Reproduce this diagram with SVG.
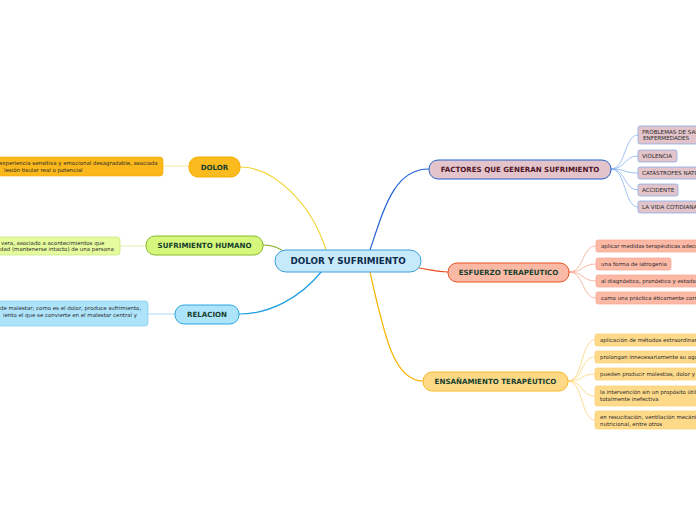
<svg xmlns="http://www.w3.org/2000/svg" width="696" height="520" viewBox="0 0 696 520">
<style>
.t{font-family:"DejaVu Sans",Verdana,sans-serif;}
.main{font-size:8.8px;font-weight:bold;fill:#0d2b4e;text-anchor:middle;}
.sub{font-size:7.1px;font-weight:bold;fill:#17402e;text-anchor:middle;}
.leaf{font-size:5.45px;fill:#2a2a2a;}
.up{font-size:5.6px;fill:#2a2a2a;}
.c{fill:none;stroke-width:1.2;}
.lc{fill:none;stroke-width:0.8;}
</style>
<rect width="696" height="520" fill="#ffffff"/>
<g id="connectors">
<path class="c" stroke="#f0d43a" d="M326,250 C312,205 275,167 240,167"/>
<path class="c" stroke="#86ad1c" d="M263,245 C274,245 280,248 286,253"/>
<path class="c" stroke="#1d9fe2" d="M322,271 C300,298 270,314 239,314"/>
<path class="c" stroke="#1e62d0" d="M370,250 C385,205 395,169 429,169"/>
<path class="c" stroke="#e8501e" d="M419,268 C432,270 436,272 448,272"/>
<path class="c" stroke="#f7b500" d="M370,272 C385,340 395,381 423,381"/>
<path class="lc" stroke="#f5e08a" d="M163,166 L189,166"/>
<path class="lc" stroke="#d9f09a" d="M120,246 L146,246"/>
<path class="lc" stroke="#8fd4f2" d="M148,314 L175,314"/>
<g stroke="#86b2ee">
<path class="lc" d="M611,169 C626,169 624,135 638,135"/>
<path class="lc" d="M611,169 C626,169 624,156 638,156"/>
<path class="lc" d="M611,169 C626,169 624,173 638,173"/>
<path class="lc" d="M611,169 C626,169 624,190 638,190"/>
<path class="lc" d="M611,169 C626,169 624,207 638,207"/>
</g>
<g stroke="#f6a791">
<path class="lc" d="M569,272 C584,272 582,246 596,246"/>
<path class="lc" d="M569,272 C584,272 582,264 596,264"/>
<path class="lc" d="M569,272 C584,272 582,281 596,281"/>
<path class="lc" d="M569,272 C584,272 582,298 596,298"/>
</g>
<g stroke="#fcd479">
<path class="lc" d="M568,381 C583,381 581,340 595,340"/>
<path class="lc" d="M568,381 C583,381 581,357 595,357"/>
<path class="lc" d="M568,381 C583,381 581,374 595,374"/>
<path class="lc" d="M568,381 C583,381 581,396 595,396"/>
<path class="lc" d="M568,381 C583,381 581,420 595,420"/>
</g>
</g>
<g id="central">
<rect x="275" y="250" width="146" height="22" rx="11" fill="#c7eafb" stroke="#3b9fdc" stroke-width="1"/>
<text class="t main" x="348" y="264.2">DOLOR Y SUFRIMIENTO</text>
</g>
<g id="dolor">
<rect x="189" y="157" width="51" height="20" rx="9" fill="#fbbb1f" stroke="#f6ad00" stroke-width="1"/>
<text class="t sub" x="214.5" y="169.6">DOLOR</text>
</g>
<g id="dolor-leaf">
<rect x="-10" y="157" width="173" height="19" rx="3" fill="#fbb81c" stroke="#f6ad00" stroke-width="0.6"/>
<text class="t leaf" x="-1" y="165.2">experiencia sensitiva y emocional desagradable, asociada</text>
<text class="t leaf" x="4" y="171.7">lesión tisular real o potencial</text>
</g>
<g id="sufrimiento">
<rect x="146" y="236" width="117" height="19" rx="9" fill="#d5f77b" stroke="#86ba2a" stroke-width="1"/>
<text class="t sub" x="204.5" y="248">SUFRIMIENTO HUMANO</text>
</g>
<g id="sufrimiento-leaf">
<rect x="-10" y="237" width="130" height="18" rx="3" fill="#e6fb9e" stroke="#bde468" stroke-width="0.6"/>
<text class="t leaf" x="1" y="244.5">vera, asociado a acontecimientos que</text>
<text class="t leaf" x="0" y="251">dad (mantenerse intacto) de una persona</text>
</g>
<g id="relacion">
<rect x="175" y="305" width="64" height="19" rx="9" fill="#aee4fa" stroke="#2aa6e0" stroke-width="1"/>
<text class="t sub" x="207" y="317">RELACION</text>
</g>
<g id="relacion-leaf">
<rect x="-10" y="301" width="158" height="25" rx="3" fill="#aee4fa" stroke="#6cc8ef" stroke-width="0.6"/>
<text class="t leaf" x="0" y="310">de malestar; como es el dolor, produce sufrimiento,</text>
<text class="t leaf" x="3" y="316.5">iento el que se convierte en el malestar central y</text>
</g>
<g id="factores">
<rect x="429" y="160" width="182" height="19" rx="9" fill="#e3c4ca" stroke="#1e62d0" stroke-width="1"/>
<text class="t sub" x="520" y="172" style="fill:#4e1426">FACTORES QUE GENERAN SUFRIMIENTO</text>
</g>
<g id="f1"><rect x="638" y="126" width="70" height="18" rx="2" fill="#e3c4ca" stroke="#7aa6e8" stroke-width="0.7"/><text class="t up" x="642" y="133.5">PROBLEMAS DE SALUD Y</text><text class="t up" x="643" y="140">ENFERMEDADES</text></g>
<g id="f2"><rect x="638" y="150" width="39" height="12" rx="2" fill="#e3c4ca" stroke="#7aa6e8" stroke-width="0.7"/><text class="t up" x="642" y="158">VIOLENCIA</text></g>
<g id="f3"><rect x="638" y="167" width="70" height="12" rx="2" fill="#e3c4ca" stroke="#7aa6e8" stroke-width="0.7"/><text class="t up" x="642" y="175">CATÁSTROFES NATURALES</text></g>
<g id="f4"><rect x="638" y="184" width="40" height="12" rx="2" fill="#e3c4ca" stroke="#7aa6e8" stroke-width="0.7"/><text class="t up" x="642" y="192">ACCIDENTE</text></g>
<g id="f5"><rect x="638" y="201" width="70" height="12" rx="2" fill="#e3c4ca" stroke="#7aa6e8" stroke-width="0.7"/><text class="t up" x="642" y="209">LA VIDA COTIDIANA</text></g>
<g id="esfuerzo">
<rect x="448" y="263" width="121" height="19" rx="9" fill="#f9b9a5" stroke="#e8501e" stroke-width="1"/>
<text class="t sub" x="508.5" y="275">ESFUERZO TERAPÉUTICO</text>
</g>
<g id="e1"><rect x="596" y="240" width="110" height="12" rx="2" fill="#fbb9a6" stroke="#f6a791" stroke-width="0.7"/><text class="t leaf" x="601" y="248">aplicar medidas terapéuticas adecuadas</text></g>
<g id="e2"><rect x="596" y="258" width="75" height="12" rx="2" fill="#fbb9a6" stroke="#f6a791" stroke-width="0.7"/><text class="t leaf" x="601" y="266">una forma de iatrogenia</text></g>
<g id="e3"><rect x="596" y="275" width="110" height="12" rx="2" fill="#fbb9a6" stroke="#f6a791" stroke-width="0.7"/><text class="t leaf" x="601" y="283">al diagnóstico, pronóstico y estado del</text></g>
<g id="e4"><rect x="596" y="292" width="110" height="12" rx="2" fill="#fbb9a6" stroke="#f6a791" stroke-width="0.7"/><text class="t leaf" x="601" y="300">como una práctica éticamente correcta</text></g>
<g id="ensanamiento">
<rect x="423" y="372" width="145" height="19" rx="9" fill="#fdd986" stroke="#fbb92a" stroke-width="1"/>
<text class="t sub" x="495.5" y="384">ENSAÑAMIENTO TERAPÉUTICO</text>
</g>
<g id="n1"><rect x="595" y="334" width="110" height="12" rx="2" fill="#fdd98a" stroke="#fcd070" stroke-width="0.7"/><text class="t leaf" x="600" y="342">aplicación de métodos extraordinarios</text></g>
<g id="n2"><rect x="595" y="351" width="110" height="12" rx="2" fill="#fdd98a" stroke="#fcd070" stroke-width="0.7"/><text class="t leaf" x="600" y="359">prolongan innecesariamente su agonía</text></g>
<g id="n3"><rect x="595" y="368" width="110" height="12" rx="2" fill="#fdd98a" stroke="#fcd070" stroke-width="0.7"/><text class="t leaf" x="600" y="376">pueden producir molestias, dolor y</text></g>
<g id="n4"><rect x="595" y="386" width="110" height="20" rx="2" fill="#fdd98a" stroke="#fcd070" stroke-width="0.7"/><text class="t leaf" x="600" y="394">la intervención sin un propósito útil</text><text class="t leaf" x="600" y="401">totalmente inefectiva</text></g>
<g id="n5"><rect x="595" y="411" width="110" height="18" rx="2" fill="#fdd98a" stroke="#fcd070" stroke-width="0.7"/><text class="t leaf" x="600" y="419">en resucitación, ventilación mecánica</text><text class="t leaf" x="600" y="425.5">nutricional, entre otros</text></g>
</svg>
